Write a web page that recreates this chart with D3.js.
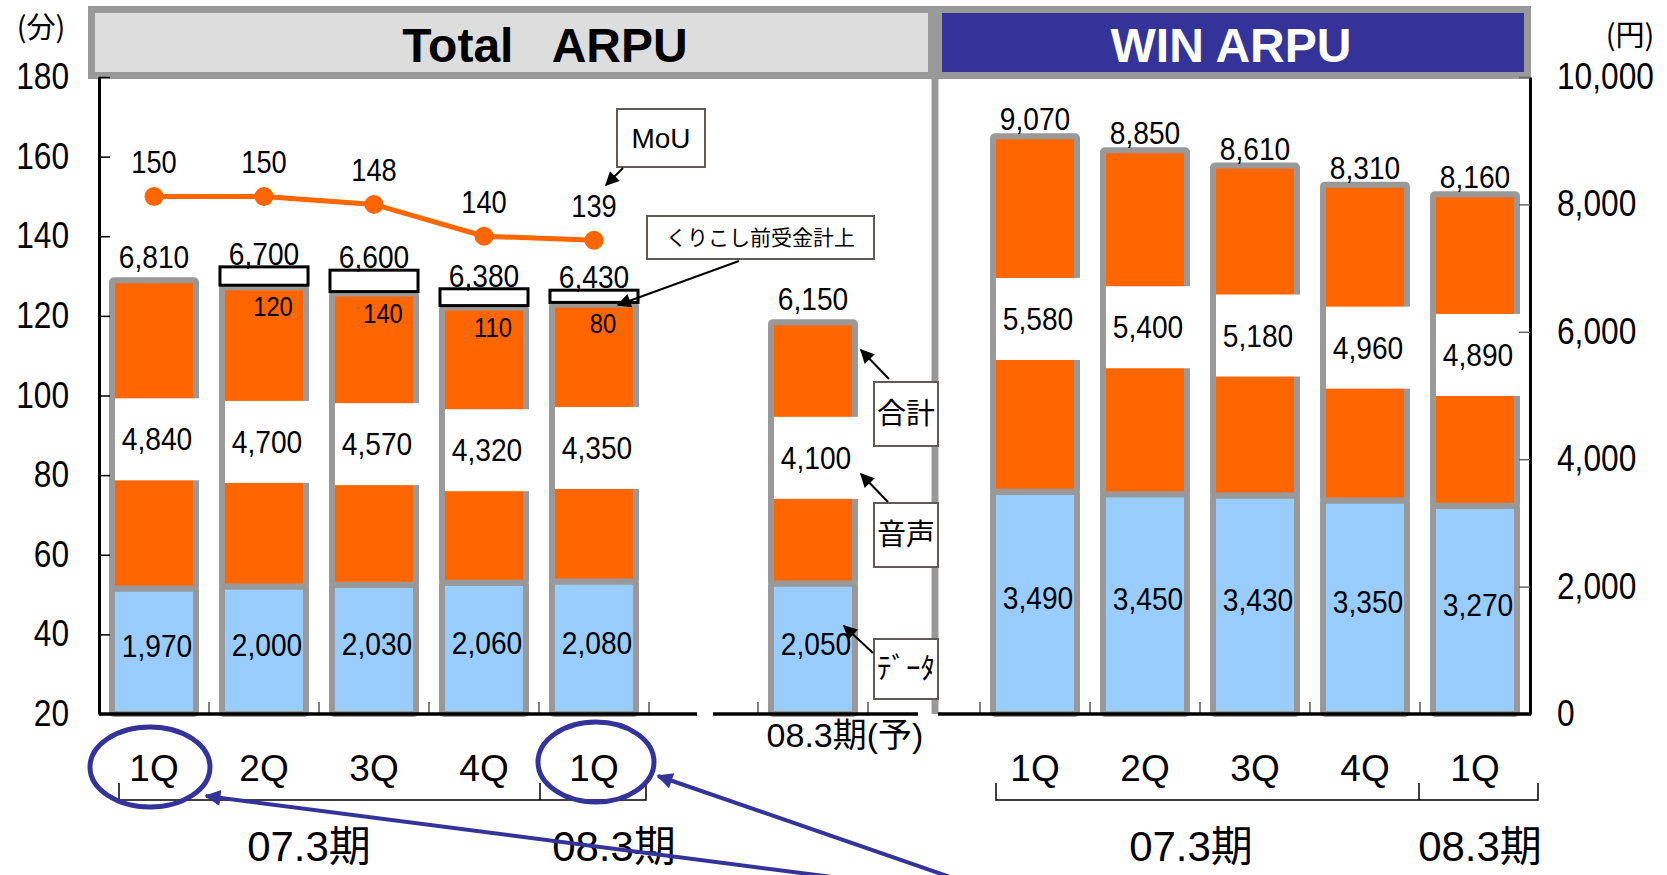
<!DOCTYPE html>
<html>
<head>
<meta charset="utf-8">
<script src="https://cdn.jsdelivr.net/npm/d3@7"></script>
<style>
  body { margin: 0; background: #fff; }
</style>
</head>
<body>
<svg id="chart" width="1667" height="875"></svg>
<script>
// ---- data ----
var totalKeys   = ["07-1Q", "07-2Q", "07-3Q", "07-4Q", "08-1Q"];
var totalQLabel = ["1Q", "2Q", "3Q", "4Q", "1Q"];
var totalData   = [1970, 2000, 2030, 2060, 2080];
var totalVoice  = [4840, 4700, 4570, 4320, 4350];
var totalSum    = [6810, 6700, 6600, 6380, 6430];
var carryOver   = [0, 120, 140, 110, 80];     // くりこし前受金計上
var mou         = [150, 150, 148, 140, 139];

var fcKeys  = ["08.3期(予)"];
var fcData  = [2050];
var fcVoice = [4100];
var fcSum   = [6150];

var winKeys   = ["W07-1Q", "W07-2Q", "W07-3Q", "W07-4Q", "W08-1Q"];
var winQLabel = ["1Q", "2Q", "3Q", "4Q", "1Q"];
var winData   = [3490, 3450, 3430, 3350, 3270];
var winVoice  = [5580, 5400, 5180, 4960, 4890];
var winSum    = [9070, 8850, 8610, 8310, 8160];

var leftTicks  = [20, 40, 60, 80, 100, 120, 140, 160, 180];
var rightTicks = [0, 2000, 4000, 6000, 8000, 10000];
var periods    = ["07.3期", "08.3期"];

// ---- setup ----
var gray = "#999999", orange = "#ff6600", lightBlue = "#99ccff", navy = "#333399";
var numFont  = "'Liberation Sans',Arial,sans-serif";
var sansFont = "'Liberation Sans','Noto Sans CJK JP',sans-serif";
var cjkFont  = "'Noto Sans CJK JP',sans-serif";
var fmt = d3.format(",");

var svg = d3.select("#chart");
var yBottom = 714, yTop = 77;

var yRight = d3.scaleLinear().domain([0, 10000]).range([yBottom, yTop]);
var yLeft  = d3.scaleLinear().domain([20, 180]).range([yBottom, yTop]);

var xTotal = d3.scaleBand().domain(totalKeys).range([99, 649]).paddingInner(0.236).paddingOuter(0.118);
var xFc    = d3.scaleBand().domain(fcKeys).range([758, 868]).paddingInner(0.236).paddingOuter(0.118);
var xWin   = d3.scaleBand().domain(winKeys).range([980, 1530]).paddingInner(0.236).paddingOuter(0.118);

// markers
var defs = svg.append("defs");
defs.append("marker").attr("id", "arrBlack")
  .attr("viewBox", "0 0 10 10").attr("refX", 9).attr("refY", 5)
  .attr("markerUnits", "userSpaceOnUse").attr("markerWidth", 16).attr("markerHeight", 14)
  .attr("orient", "auto")
  .append("path").attr("d", "M0,0L10,5L0,10z").attr("fill", "#000");
defs.append("marker").attr("id", "arrNavy")
  .attr("viewBox", "0 0 10 10").attr("refX", 9).attr("refY", 5)
  .attr("markerUnits", "userSpaceOnUse").attr("markerWidth", 20).attr("markerHeight", 16)
  .attr("orient", "auto")
  .append("path").attr("d", "M0,0L10,5L0,10z").attr("fill", navy);

// title boxes
svg.append("rect").attr("x", 91.5).attr("y", 9.5).attr("width", 840).attr("height", 66)
  .attr("fill", "#dddddd").attr("stroke", gray).attr("stroke-width", 7);
svg.append("rect").attr("x", 938.5).attr("y", 9.5).attr("width", 589).attr("height", 66)
  .attr("fill", navy).attr("stroke", gray).attr("stroke-width", 7);
svg.append("text").attr("x", 545).attr("y", 62).attr("text-anchor", "middle")
  .style("font-family", sansFont).style("font-weight", "bold").style("font-size", "48px")
  .style("white-space", "pre").text("Total   ARPU");
svg.append("text").attr("x", 1231).attr("y", 62).attr("text-anchor", "middle")
  .style("font-family", sansFont).style("font-weight", "bold").style("font-size", "48px")
  .attr("fill", "#fff").text("WIN ARPU");

// panel separator
svg.append("line").attr("x1", 935).attr("x2", 935).attr("y1", 79).attr("y2", yBottom)
  .attr("stroke", gray).attr("stroke-width", 7);

// unit labels
svg.append("text").attr("x", 41).attr("y", 38).attr("text-anchor", "middle")
  .style("font-family", cjkFont).style("font-size", "29px").text("(分)");
svg.append("text").attr("x", 1630).attr("y", 46).attr("text-anchor", "middle")
  .style("font-family", cjkFont).style("font-size", "29px").text("(円)");

// ---- bars ----
function drawBars(x, keys, dataVals, voiceVals, sums, carry, topGap) {
  var rows = keys.map(function(k, i) {
    return {key: k, data: dataVals[i], voice: voiceVals[i], sum: sums[i], carry: carry ? carry[i] : 0};
  });
  var series = d3.stack().keys(["data", "voice"])(rows);
  var fills = {data: lightBlue, voice: orange};
  var g = svg.append("g");
  var bw = x.bandwidth();

  series.forEach(function(s) {
    g.selectAll(null).data(s).enter().append("rect")
      .attr("x", function(d) { return x(d.data.key); })
      .attr("width", bw)
      .attr("y", function(d) { return yRight(d[1]); })
      .attr("height", function(d) { return yRight(d[0]) - yRight(d[1]); })
      .attr("rx", 2)
      .attr("fill", fills[s.key]).attr("stroke", gray).attr("stroke-width", 6);
  });

  // white label box on voice segment
  var voice = series[1];
  g.selectAll(null).data(voice).enter().append("rect")
    .attr("x", function(d) { return x(d.data.key) + 3; })
    .attr("width", bw + 2)
    .attr("y", function(d) { return (yRight(d[0]) + yRight(d[1])) / 2 + 5 - 41; })
    .attr("height", 82)
    .attr("fill", "#fff");
  g.selectAll(null).data(voice).enter().append("text").attr("class", "num")
    .attr("x", function(d) { return x(d.data.key) + bw / 2 + 3; })
    .attr("y", function(d) { return (yRight(d[0]) + yRight(d[1])) / 2 + 5 + 11; })
    .attr("text-anchor", "middle")
    .style("font-family", numFont).style("font-size", "32px")
    .text(function(d) { return fmt(d.data.voice); });

  // data labels
  g.selectAll(null).data(series[0]).enter().append("text").attr("class", "num")
    .attr("x", function(d) { return x(d.data.key) + bw / 2 + 3; })
    .attr("y", function(d) { return (yRight(d[0]) + yRight(d[1])) / 2 - 6 + 12; })
    .attr("text-anchor", "middle")
    .style("font-family", numFont).style("font-size", "32px")
    .text(function(d) { return fmt(d.data.data); });

  // carry-over boxes
  var withCarry = rows.filter(function(d) { return d.carry > 0; });
  function boxH(d) { return yRight(d.sum) - yRight(d.sum + d.carry * 2.4); }
  g.selectAll(null).data(withCarry).enter().append("rect")
    .attr("x", function(d) { return x(d.key) - 2; })
    .attr("width", bw + 4)
    .attr("y", function(d) { return yRight(d.sum) - 2 - boxH(d); })
    .attr("height", boxH)
    .attr("fill", "#fff").attr("stroke", "#000").attr("stroke-width", 3);
  g.selectAll(null).data(withCarry).enter().append("text").attr("class", "num")
    .attr("x", function(d) { return x(d.key) + bw / 2 + 9; })
    .attr("y", function(d) { return yRight(d.sum) + 29; })
    .attr("text-anchor", "middle")
    .style("font-family", numFont).style("font-size", "27px")
    .text(function(d) { return d.carry; });

  // total labels
  g.selectAll(null).data(rows).enter().append("text").attr("class", "num")
    .attr("x", function(d) { return x(d.key) + bw / 2; })
    .attr("y", function(d) { return d.carry > 0 ? yRight(d.sum) - 4 - boxH(d) : yRight(d.sum) - topGap; })
    .attr("text-anchor", "middle")
    .style("font-family", numFont).style("font-size", "32px")
    .text(function(d) { return fmt(d.sum); });
}

drawBars(xTotal, totalKeys, totalData, totalVoice, totalSum, carryOver, 12);
drawBars(xFc, fcKeys, fcData, fcVoice, fcSum, null, 12);
drawBars(xWin, winKeys, winData, winVoice, winSum, null, 6);

// ---- MoU line ----
var mouRows = totalKeys.map(function(k, i) { return {key: k, v: mou[i]}; });
var cx = function(d) { return xTotal(d.key) + xTotal.bandwidth() / 2; };
svg.append("path").datum(mouRows)
  .attr("d", d3.line().x(cx).y(function(d) { return yLeft(d.v); }))
  .attr("fill", "none").attr("stroke", orange).attr("stroke-width", 5);
svg.selectAll(".dot").data(mouRows).enter().append("circle")
  .attr("cx", cx).attr("cy", function(d) { return yLeft(d.v); }).attr("r", 9.5)
  .attr("fill", orange);
svg.selectAll(".mouLbl").data(mouRows).enter().append("text").attr("class", "num")
  .attr("x", cx).attr("y", function(d) { return yLeft(d.v) - 23; })
  .attr("text-anchor", "middle")
  .style("font-family", numFont).style("font-size", "31px")
  .text(function(d) { return d.v; });

// ---- axes ----
var axL = svg.append("g").attr("transform", "translate(99,0)")
  .call(d3.axisLeft(yLeft).tickValues(leftTicks).tickSizeInner(-11).tickSizeOuter(0).tickPadding(30));
var axR = svg.append("g").attr("transform", "translate(1530,0)")
  .call(d3.axisRight(yRight).tickValues(rightTicks).tickFormat(fmt).tickSizeInner(-11).tickSizeOuter(0).tickPadding(27));
[axL, axR].forEach(function(ax) {
  ax.select(".domain").attr("stroke", "#000").attr("stroke-width", 3);
  ax.selectAll(".tick text").attr("class", "num")
    .style("font-family", numFont).style("font-size", "36px").attr("fill", "#000");
});
axL.selectAll(".tick line").attr("stroke", "#000").attr("stroke-width", 1.5);
axR.selectAll(".tick line").attr("stroke", "#666").attr("stroke-width", 1.5);

// bottom baseline segments
[[99, 697], [713, 918], [938, 1531]].forEach(function(s) {
  svg.append("line").attr("x1", s[0]).attr("x2", s[1]).attr("y1", yBottom).attr("y2", yBottom)
    .attr("stroke", "#000").attr("stroke-width", 3.5);
});

// category boundary ticks
function boundaryTicks(x, keys, side) {
  var gap = (x.step() - x.bandwidth()) / 2;
  var xs = [];
  keys.forEach(function(k) {
    if (side !== "right") xs.push(x(k) - gap);
    if (side !== "left") xs.push(x(k) + x.bandwidth() + gap);
  });
  svg.selectAll(null).data(xs).enter().append("line")
    .attr("x1", function(d) { return d; }).attr("x2", function(d) { return d; })
    .attr("y1", yBottom).attr("y2", yBottom - 12)
    .attr("stroke", "#000").attr("stroke-width", 1);
}
boundaryTicks(xTotal, totalKeys, "right");
boundaryTicks(xFc, fcKeys, "both");
boundaryTicks(xWin, winKeys, "left");

// ---- category labels ----
function qLabels(x, keys, labels) {
  svg.selectAll(null).data(keys).enter().append("text")
    .attr("x", function(k) { return x(k) + x.bandwidth() / 2; })
    .attr("y", 781).attr("text-anchor", "middle")
    .style("font-family", sansFont).style("font-size", "37px")
    .text(function(k, i) { return labels[i]; });
}
qLabels(xTotal, totalKeys, totalQLabel);
qLabels(xWin, winKeys, winQLabel);
svg.append("text").attr("x", xFc(fcKeys[0]) + xFc.bandwidth() / 2 + 32).attr("y", 747)
  .attr("text-anchor", "middle")
  .style("font-family", sansFont).style("font-size", "34px").text(fcKeys[0]);

// period brackets
function bracket(x0, xm, x1) {
  var p = "M" + x0 + ",783V800H" + x1 + "V783M" + xm + ",800V783";
  svg.append("path").attr("d", p).attr("fill", "none").attr("stroke", "#000").attr("stroke-width", 1.5);
}
var cT = function(i) { return xTotal(totalKeys[i]) + xTotal.bandwidth() / 2; };
var cW = function(i) { return xWin(winKeys[i]) + xWin.bandwidth() / 2; };
bracket(119, 540, 646);
bracket(996, 1419, 1538);
[[cT(0) / 2 + cT(3) / 2 - 10, periods[0]], [cT(4) + 20, periods[1]],
 [cW(0) / 2 + cW(3) / 2 - 9, periods[0]], [cW(4) + 5, periods[1]]].forEach(function(p) {
  svg.append("text").attr("x", p[0]).attr("y", 861).attr("text-anchor", "middle")
    .style("font-family", sansFont).style("font-size", "42px").text(p[1]);
});

// ---- callouts ----
function callout(x, y, w, h, label, size, font) {
  svg.append("rect").attr("x", x).attr("y", y).attr("width", w).attr("height", h)
    .attr("fill", "#fff").attr("stroke", "#5f5a55").attr("stroke-width", 2);
  svg.append("text").attr("x", x + w / 2).attr("y", y + h / 2 + size * 0.36)
    .attr("text-anchor", "middle").style("font-family", font).style("font-size", size + "px").text(label);
}
function arrow(x1, y1, x2, y2) {
  svg.append("line").attr("x1", x1).attr("y1", y1).attr("x2", x2).attr("y2", y2)
    .attr("stroke", "#000").attr("stroke-width", 2).attr("marker-end", "url(#arrBlack)");
}
callout(617, 109, 88, 58, "MoU", 28, sansFont);
arrow(623, 168, 606, 185);
callout(647, 216, 227, 43, "くりこし前受金計上", 21, cjkFont);
arrow(739, 261, 618, 305);
callout(874, 382, 64, 64, "合計", 29, cjkFont);
callout(874, 503, 64, 64, "音声", 29, cjkFont);
callout(874, 639, 64, 60, "ﾃﾞｰﾀ", 29, cjkFont);
arrow(889, 379, 861, 350);
arrow(888, 502, 861, 474);
arrow(873, 653, 844, 626);

// ---- navy highlight ----
svg.append("ellipse").attr("cx", cT(0) - 4).attr("cy", 767).attr("rx", 60).attr("ry", 40)
  .attr("fill", "none").attr("stroke", navy).attr("stroke-width", 5);
svg.append("ellipse").attr("cx", cT(4) + 2).attr("cy", 762).attr("rx", 58).attr("ry", 40)
  .attr("fill", "none").attr("stroke", navy).attr("stroke-width", 5);
svg.append("line").attr("x1", 840).attr("y1", 878).attr("x2", 206).attr("y2", 796)
  .attr("stroke", navy).attr("stroke-width", 4).attr("marker-end", "url(#arrNavy)");
svg.append("line").attr("x1", 953).attr("y1", 878).attr("x2", 658).attr("y2", 776)
  .attr("stroke", navy).attr("stroke-width", 4).attr("marker-end", "url(#arrNavy)");

// narrow the numeric labels (the source uses a condensed face)
svg.selectAll("text.num").each(function() {
  var len = this.getComputedTextLength();
  d3.select(this).attr("textLength", len * 0.88).attr("lengthAdjust", "spacingAndGlyphs");
});
</script>
</body>
</html>
